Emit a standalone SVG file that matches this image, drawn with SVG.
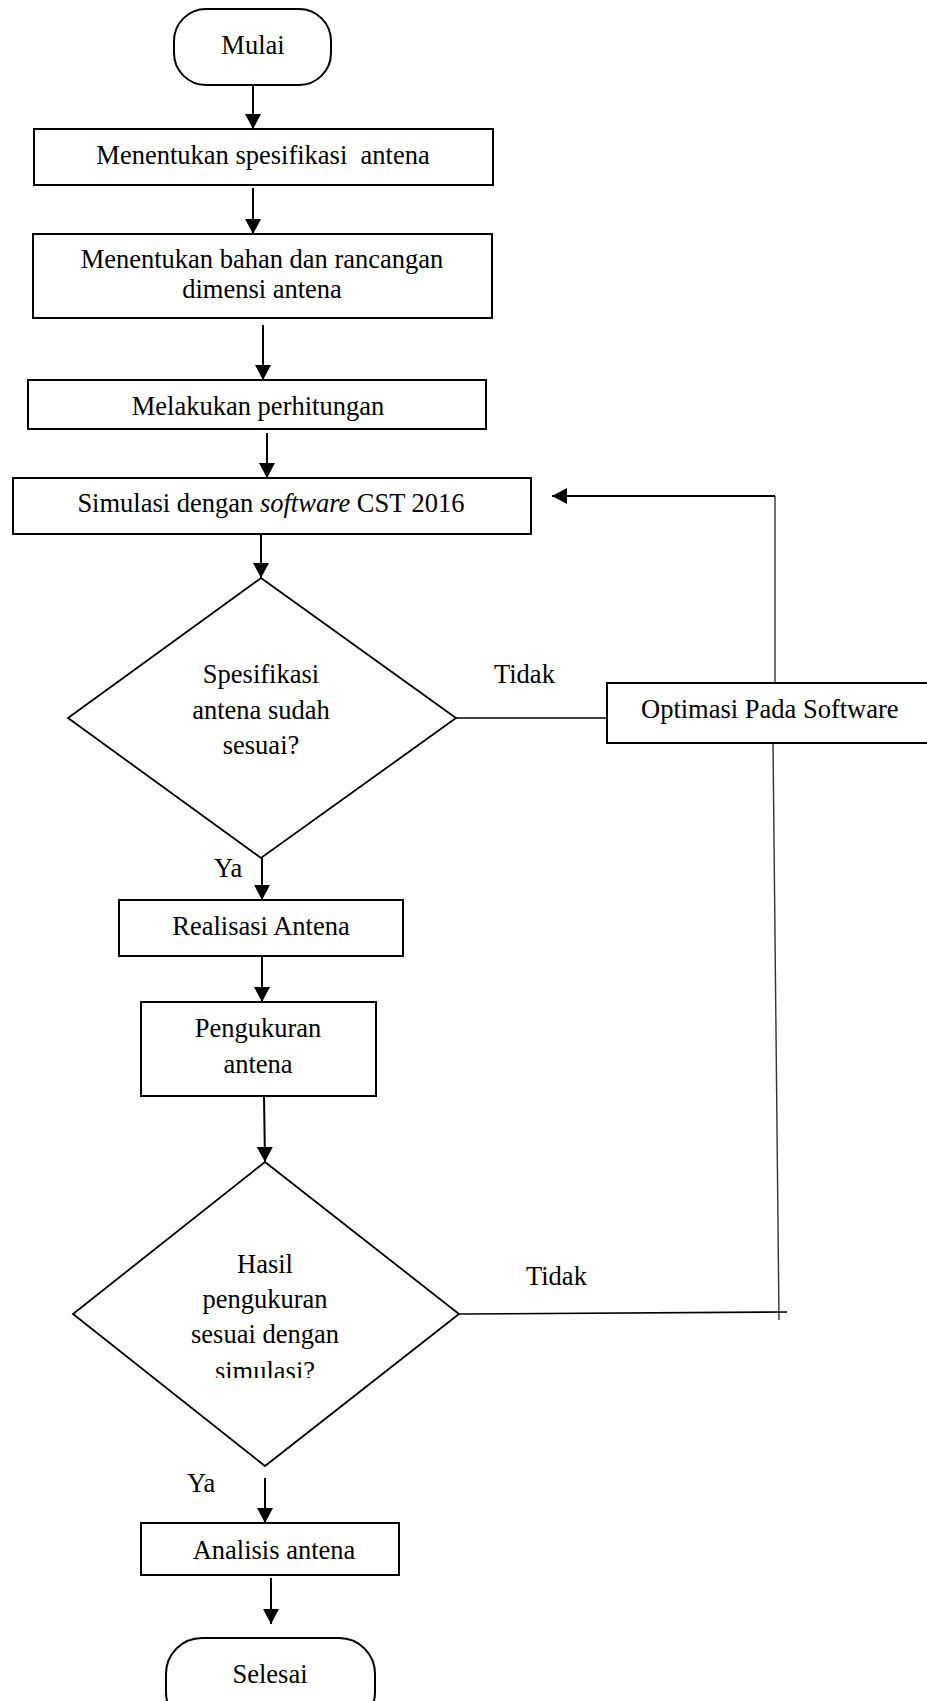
<svg xmlns="http://www.w3.org/2000/svg" width="927" height="1701" viewBox="0 0 927 1701">
<style>
  text { font-family: "Liberation Serif", "Times New Roman", serif; font-size: 26.5px; fill: #000; }
  .c { text-anchor: middle; }
  .box { fill: #fff; stroke: #000; stroke-width: 2; }
  .dia { fill: #fff; stroke: #000; stroke-width: 1.8; }
  .arr { fill: none; stroke: #000; stroke-width: 2; marker-end: url(#ah); }
  .ln { fill: none; stroke: #000; stroke-width: 1.6; }
  .loop { fill: none; stroke: #333; stroke-width: 1.4; }
</style>
<defs>
  <marker id="ah" markerUnits="userSpaceOnUse" markerWidth="16" markerHeight="18" refX="15" refY="8" orient="auto">
    <path d="M0,0 L15,8 L0,16 Z" fill="#000"/>
  </marker>
  <clipPath id="clip4">
    <rect x="0" y="1340" width="927" height="38"/>
  </clipPath>
</defs>

<g id="connectors">
  <line class="arr" x1="253" y1="85" x2="253" y2="129"/>
  <line class="arr" x1="253" y1="188" x2="253" y2="234"/>
  <line class="arr" x1="263" y1="325" x2="263" y2="380"/>
  <line class="arr" x1="267" y1="433" x2="267" y2="478"/>
  <line class="arr" x1="261" y1="534" x2="261" y2="578"/>
  <line class="ln" x1="456" y1="718" x2="607" y2="718"/>
  <line class="loop" x1="775" y1="683" x2="775" y2="496"/>
  <line class="arr" x1="775" y1="496" x2="552" y2="496"/>
  <line class="loop" x1="773" y1="743" x2="779" y2="1320"/>
  <line class="ln" x1="459" y1="1314" x2="787" y2="1312"/>
  <line class="arr" x1="262" y1="858" x2="262" y2="900"/>
  <line class="arr" x1="262" y1="956" x2="262" y2="1002"/>
  <line class="arr" x1="264" y1="1096" x2="265" y2="1162"/>
  <line class="arr" x1="265" y1="1478" x2="265" y2="1523"/>
  <line class="arr" x1="271" y1="1578" x2="271" y2="1624"/>
</g>

<g id="mulai">
  <rect class="box" x="174" y="9" width="157" height="76" rx="32" ry="32" stroke-width="1.8"/>
  <text class="c" x="253" y="54">Mulai</text>
</g>

<g id="spesifikasi">
  <rect class="box" x="34" y="129" width="459" height="56"/>
  <text class="c" x="263" y="164" xml:space="preserve">Menentukan spesifikasi  antena</text>
</g>

<g id="bahan">
  <rect class="box" x="33" y="234" width="459" height="84"/>
  <text class="c" x="262" y="268">Menentukan bahan dan rancangan</text>
  <text class="c" x="262" y="298">dimensi antena</text>
</g>

<g id="perhitungan">
  <rect class="box" x="28" y="380" width="458" height="49"/>
  <text class="c" x="258" y="415">Melakukan perhitungan</text>
</g>

<g id="simulasi">
  <rect class="box" x="13" y="478" width="518" height="56"/>
  <text class="c" x="271" y="512">Simulasi dengan <tspan font-style="italic">software</tspan> CST 2016</text>
</g>

<g id="cek-spesifikasi">
  <polygon class="dia" points="261,578 456,718 261,858 68,718"/>
  <text class="c" x="261" y="683">Spesifikasi</text>
  <text class="c" x="261" y="719">antena sudah</text>
  <text class="c" x="261" y="754">sesuai?</text>
</g>

<g id="label-tidak-1">
  <text x="494" y="683">Tidak</text>
</g>

<g id="optimasi">
  <rect class="box" x="607" y="683" width="340" height="60" stroke-width="2.2"/>
  <text x="641" y="718">Optimasi Pada Software</text>
</g>

<g id="label-ya-1">
  <text x="214" y="877">Ya</text>
</g>

<g id="realisasi">
  <rect class="box" x="119" y="900" width="284" height="56"/>
  <text class="c" x="261" y="935">Realisasi Antena</text>
</g>

<g id="pengukuran">
  <rect class="box" x="141" y="1002" width="235" height="94"/>
  <text class="c" x="258" y="1037">Pengukuran</text>
  <text class="c" x="258" y="1073">antena</text>
</g>

<g id="cek-hasil">
  <polygon class="dia" points="265,1162 459,1314 265,1466 73,1314"/>
  <text class="c" x="265" y="1273">Hasil</text>
  <text class="c" x="265" y="1308">pengukuran</text>
  <text class="c" x="265" y="1343">sesuai dengan</text>
  <text class="c" x="265" y="1380" clip-path="url(#clip4)">simulasi?</text>
</g>

<g id="label-tidak-2">
  <text x="526" y="1285">Tidak</text>
</g>

<g id="label-ya-2">
  <text x="187" y="1492">Ya</text>
</g>

<g id="analisis">
  <rect class="box" x="141" y="1523" width="258" height="52"/>
  <text class="c" x="274" y="1559">Analisis antena</text>
</g>

<g id="selesai">
  <rect class="box" x="166" y="1638" width="209" height="90" rx="36" ry="36" stroke-width="1.8"/>
  <text class="c" x="270" y="1683">Selesai</text>
</g>
</svg>
